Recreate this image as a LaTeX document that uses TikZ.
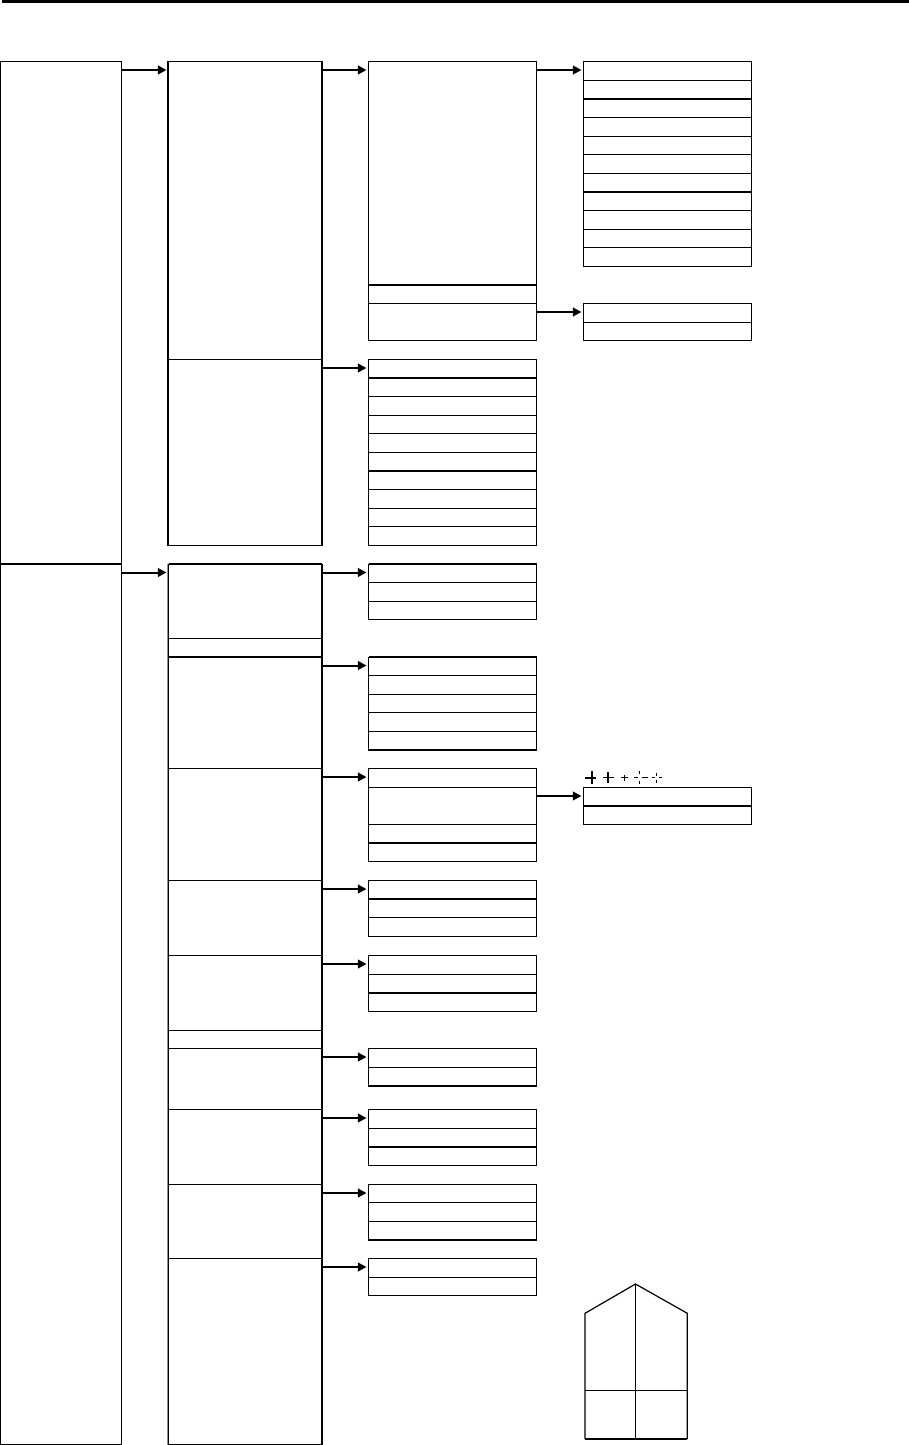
\documentclass[tikz,border=0pt]{standalone}
\usetikzlibrary{fit,arrows.meta,calc}
\tikzset{
  x=0.75pt,y=-0.75pt,
  cell/.style={draw=black,line width=0.75pt,inner sep=0pt,outer sep=0pt,rectangle},
  heavy/.style={draw=black,line width=1.5pt},
  link/.style={draw=black,line width=1.5pt,-{Triangle[length=6.5pt,width=6.5pt]},shorten >=1.5pt},
  fringe/.style={draw=black!45,line width=0.75pt},
  figline/.style={draw=black,line width=0.9pt},
}
\newcommand{\cellbox}[5]{\node[cell,fit={(#2,#3) (#4,#5)}] (#1) {};}
\newcommand{\linkto}[2]{\draw[link] (#1.east |- {$(#2.north west)+(0,8.5)$}) -- ($(#2.north west)+(0,8.5)$);}
\newcommand{\heavytop}[1]{\draw[heavy] (#1.north west) -- (#1.north east);}
\newcommand{\heavybot}[1]{\draw[heavy] (#1.south west) -- (#1.south east);}
\begin{document}
\begin{tikzpicture}
\useasboundingbox (0,0) rectangle (909,1445);
\fill[black] (2,0) rectangle (909,3);
% column 1
\cellbox{a}{0.5}{61.5}{121.5}{564}
\cellbox{b}{0.5}{564}{121.5}{1444.5}
% column 2
\cellbox{aa}{168.5}{61.5}{322}{359.5}
\cellbox{ab}{168.5}{359.5}{322}{545.5}
\cellbox{ba}{168.5}{564}{322}{638.5}
\cellbox{bb}{168.5}{638.5}{322}{657}
\cellbox{bc}{168.5}{657}{322}{768.5}
\cellbox{bd}{168.5}{768.5}{322}{880.5}
\cellbox{be}{168.5}{880.5}{322}{955.5}
\cellbox{bf}{168.5}{955.5}{322}{1030.5}
\cellbox{bg}{168.5}{1030.5}{322}{1048.5}
\cellbox{bh}{168.5}{1048.5}{322}{1109.5}
\cellbox{bi}{168.5}{1109.5}{322}{1184.5}
\cellbox{bj}{168.5}{1184.5}{322}{1258.5}
\cellbox{bk}{168.5}{1258.5}{322}{1444.5}
% column 3
\cellbox{c1}{368.5}{61.5}{536.5}{285}
\cellbox{c2}{368.5}{285}{536.5}{303.5}
\cellbox{c3}{368.5}{303.5}{536.5}{340.5}
\cellbox{d0}{368.5}{359.5}{536.5}{378}
\cellbox{d1}{368.5}{378}{536.5}{396.5}
\cellbox{d2}{368.5}{396.5}{536.5}{415.5}
\cellbox{d3}{368.5}{415.5}{536.5}{433.5}
\cellbox{d4}{368.5}{433.5}{536.5}{452.5}
\cellbox{d5}{368.5}{452.5}{536.5}{471}
\cellbox{d6}{368.5}{471}{536.5}{489.5}
\cellbox{d7}{368.5}{489.5}{536.5}{508.5}
\cellbox{d8}{368.5}{508.5}{536.5}{526.5}
\cellbox{d9}{368.5}{526.5}{536.5}{545.5}
\cellbox{e0}{368.5}{564}{536.5}{582.5}
\cellbox{e1}{368.5}{582.5}{536.5}{601.5}
\cellbox{e2}{368.5}{601.5}{536.5}{619.5}
\cellbox{f0}{368.5}{657}{536.5}{675.5}
\cellbox{f1}{368.5}{675.5}{536.5}{694.5}
\cellbox{f2}{368.5}{694.5}{536.5}{712.5}
\cellbox{f3}{368.5}{712.5}{536.5}{731.5}
\cellbox{f4}{368.5}{731.5}{536.5}{750}
\cellbox{g0}{368.5}{768.5}{536.5}{787.5}
\cellbox{g1}{368.5}{787.5}{536.5}{824.5}
\cellbox{g2}{368.5}{824.5}{536.5}{843}
\cellbox{g3}{368.5}{843}{536.5}{861.5}
\cellbox{h0}{368.5}{880.5}{536.5}{899}
\cellbox{h1}{368.5}{899}{536.5}{917.5}
\cellbox{h2}{368.5}{917.5}{536.5}{936.5}
\cellbox{i0}{368.5}{955.5}{536.5}{974.5}
\cellbox{i1}{368.5}{974.5}{536.5}{993}
\cellbox{i2}{368.5}{993}{536.5}{1011.5}
\cellbox{j0}{368.5}{1048.5}{536.5}{1067.5}
\cellbox{j1}{368.5}{1067.5}{536.5}{1086}
\cellbox{k0}{368.5}{1109.5}{536.5}{1128.5}
\cellbox{k1}{368.5}{1128.5}{536.5}{1147}
\cellbox{k2}{368.5}{1147}{536.5}{1165.5}
\cellbox{l0}{368.5}{1184.5}{536.5}{1202.5}
\cellbox{l1}{368.5}{1202.5}{536.5}{1221.5}
\cellbox{l2}{368.5}{1221.5}{536.5}{1240}
\cellbox{m0}{368.5}{1258.5}{536.5}{1277.5}
\cellbox{m1}{368.5}{1277.5}{536.5}{1295.5}
% column 4
\cellbox{n0}{583.5}{61.5}{751.5}{80.5}
\cellbox{n1}{583.5}{80.5}{751.5}{99}
\cellbox{n2}{583.5}{99}{751.5}{117.5}
\cellbox{n3}{583.5}{117.5}{751.5}{136.5}
\cellbox{n4}{583.5}{136.5}{751.5}{154.5}
\cellbox{n5}{583.5}{154.5}{751.5}{173.5}
\cellbox{n6}{583.5}{173.5}{751.5}{192}
\cellbox{n7}{583.5}{192}{751.5}{210.5}
\cellbox{n8}{583.5}{210.5}{751.5}{229.5}
\cellbox{n9}{583.5}{229.5}{751.5}{247.5}
\cellbox{n10}{583.5}{247.5}{751.5}{266.5}
\cellbox{o0}{583.5}{303.5}{751.5}{322.5}
\cellbox{o1}{583.5}{322.5}{751.5}{340.5}
\cellbox{p0}{583.5}{787.5}{751.5}{806}
\cellbox{p1}{583.5}{806}{751.5}{824.5}
% heavier rules
\heavybot{a}
\draw[heavy] ([xshift=-0.375pt]aa.north west) -- ([xshift=-0.375pt]ab.south west);
\draw[heavy] (aa.north east) -- (ab.south east);
\draw[heavy] (ba.north east) -- (bk.south east);
\draw[fringe] ([xshift=-0.75pt]ba.north west) -- ([xshift=-0.75pt]bk.south west);
\heavytop{ba}\heavytop{bc}
\heavybot{c1}
\heavybot{d0}\heavybot{d5}
\heavytop{e0}\heavytop{f0}\heavybot{f4}
\heavybot{g2}\heavybot{h0}\heavybot{i1}\heavybot{j1}\heavybot{k1}\heavybot{l2}
\heavybot{n1}\heavybot{n6}\heavybot{p0}
% connectors
\linkto{a}{aa}
\linkto{b}{ba}
\linkto{aa}{c1}
\linkto{ab}{d0}
\linkto{ba}{e0}
\linkto{bc}{f0}
\linkto{bd}{g0}
\linkto{be}{h0}
\linkto{bf}{i0}
\linkto{bh}{j0}
\linkto{bi}{k0}
\linkto{bj}{l0}
\linkto{bk}{m0}
\linkto{c1}{n0}
\linkto{c3}{o0}
\linkto{g1}{p0}
% small marks above the lower right table
\draw[black,line width=1.5pt] (585,777.5)--(596,777.5) (591.5,770.5)--(591.5,784);
\draw[black,line width=1.4pt] (603,777.5)--(613.5,777.5) (608.3,772)--(608.3,783);
\draw[black,line width=1.4pt] (621,777.5)--(628,777.5) (624.5,774.5)--(624.5,781);
\draw[black,line width=1.1pt] (634,777.5)--(637.5,777.5) (642,777.5)--(647.5,777.5) (639.7,770.5)--(639.7,774) (639.7,780.5)--(639.7,784);
\draw[black,line width=1.1pt] (651.7,777.5)--(654.5,777.5) (659,777.5)--(662,777.5) (656.5,772.5)--(656.5,775.5) (656.5,779.5)--(656.5,782.5);
% pentagon figure
\draw[figline,line join=miter] (585,1439)--(585,1313.3)--(635.5,1284)--(687.3,1313.3)--(687.3,1439);
\draw[figline] (635.5,1284)--(635.5,1439);
\draw[draw=black,line width=0.75pt] (585,1390.5)--(687.3,1390.5);
\draw[draw=black,line width=1.1pt] (585,1439)--(687.3,1439);
\end{tikzpicture}
\end{document}
